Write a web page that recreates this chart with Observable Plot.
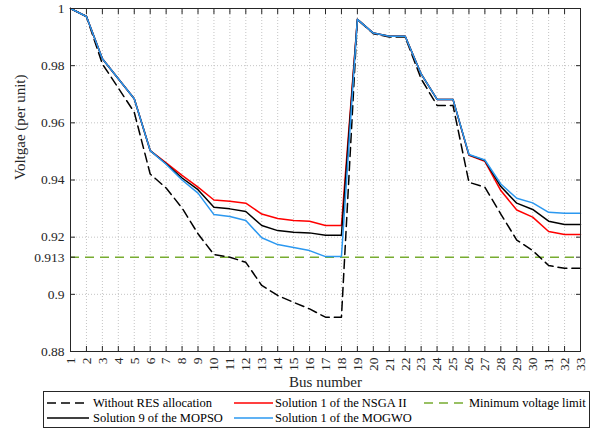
<!DOCTYPE html>
<html><head><meta charset="utf-8">
<script src="https://cdn.jsdelivr.net/npm/d3@7"></script>
<script src="https://cdn.jsdelivr.net/npm/@observablehq/plot@0.6"></script>
<style>
body{margin:0;background:#fff;font-family:"Liberation Serif","Times New Roman",Times,"DejaVu Serif",serif;}
#wrap{position:relative;width:595px;height:430px;overflow:hidden;}
#wrap svg text{font-family:"Liberation Serif","Times New Roman",Times,"DejaVu Serif",serif;}
#legend{position:absolute;left:43px;top:391px;width:545px;height:35px;border:1px solid #262626;background:#fff;}
.item{position:absolute;height:14px;font-size:12.5px;line-height:14px;color:#000;white-space:nowrap;}
.item svg{position:absolute;left:0;top:0;}
.item span{position:absolute;top:0;}
</style></head><body><div id="wrap"></div>
<script>
const buses = [1,2,3,4,5,6,7,8,9,10,11,12,13,14,15,16,17,18,19,20,21,22,23,24,25,26,27,28,29,30,31,32,33];
const withoutRES = [1.0,0.9972,0.9806,0.9722,0.9637,0.9421,0.9372,0.9302,0.9212,0.9139,0.9130,0.9112,0.9031,0.8996,0.8972,0.8949,0.8920,0.8920,0.9962,0.9912,0.9900,0.9900,0.9754,0.9661,0.9661,0.9392,0.9375,0.9281,0.9190,0.9153,0.9101,0.9091,0.9091];
const nsga2 = [1.0,0.9972,0.9824,0.9754,0.9684,0.9503,0.9460,0.9416,0.9375,0.9330,0.9326,0.9319,0.9281,0.9265,0.9258,0.9256,0.9241,0.9241,0.9962,0.9914,0.9903,0.9903,0.9771,0.9682,0.9682,0.9486,0.9465,0.9363,0.9295,0.9270,0.9220,0.9209,0.9209];
const mopso = [1.0,0.9972,0.9824,0.9754,0.9684,0.9503,0.9457,0.9407,0.9366,0.9305,0.9299,0.9290,0.9241,0.9223,0.9217,0.9215,0.9207,0.9207,0.9962,0.9914,0.9903,0.9903,0.9771,0.9682,0.9682,0.9488,0.9468,0.9377,0.9319,0.9297,0.9256,0.9244,0.9244];
const mogwo = [1.0,0.9972,0.9824,0.9754,0.9684,0.9503,0.9455,0.9400,0.9354,0.9279,0.9272,0.9258,0.9198,0.9174,0.9164,0.9153,0.9132,0.9132,0.9962,0.9914,0.9903,0.9903,0.9771,0.9682,0.9682,0.9489,0.9470,0.9386,0.9336,0.9320,0.9287,0.9284,0.9284];
const minVoltage = 0.913;
const yTicks = [0.88,0.9,0.913,0.92,0.94,0.96,0.98,1];
const yTickLabels = ["0.88","0.9","0.913","0.92","0.94","0.96","0.98","1"];
const yGrid = [0.9,0.92,0.94,0.96,0.98];
const xDomain = [1,33];
const yDomain = [0.88,1];
const xLabel = "Bus number";
const yLabel = "Voltgae (per unit)";
const seriesNames = ["Without RES allocation","Solution 1 of the NSGA II","Minimum voltage limit","Solution 9 of the MOPSO","Solution 1 of the MOGWO"];
const seriesColors = ["#000000","#ff0000","#77ac30","#000000","#2b98f0"];
const seriesDash = ["9,5",null,"9,6",null,null];
const seriesValues = [withoutRES, nsga2, null, mopso, mogwo];

const serif = '"Liberation Serif","Times New Roman",Times,"DejaVu Serif",serif';
const lineColor = "#262626";
const lineMarks = [0,1,3,4].map(k => Plot.line(
  buses.map((b,i) => ({bus: b, v: seriesValues[k][i]})),
  {x: "bus", y: "v", stroke: seriesColors[k], strokeWidth: 1.5, strokeDasharray: seriesDash[k]}
));

const chart = Plot.plot({
  width: 595, height: 390,
  marginLeft: 70, marginRight: 15, marginTop: 8, marginBottom: 39,
  style: {fontFamily: serif, fontSize: "13.5px", color: lineColor, background: "white"},
  x: {domain: xDomain, axis: null},
  y: {domain: yDomain, axis: null},
  marks: [
    Plot.ruleX(buses, {x: d => d, stroke: "#c4c4c4", strokeWidth: 1, strokeDasharray: "1,2"}),
    Plot.ruleY(yGrid, {y: d => d, stroke: "#c4c4c4", strokeWidth: 1, strokeDasharray: "1,2"}),
    Plot.ruleY([minVoltage], {y: d => d, stroke: seriesColors[2], strokeWidth: 1.5, strokeDasharray: seriesDash[2]}),
    ...lineMarks,
    Plot.frame({stroke: lineColor, strokeWidth: 1}),
    Plot.axisX({anchor: "bottom", ticks: buses, tickSize: -5, tickPadding: 11, tickRotate: -90, tickFormat: d => String(d), label: null, stroke: lineColor, fill: lineColor, fontSize: 13.5, fontFamily: serif}),
    Plot.axisX({anchor: "top", ticks: buses, tickSize: -5, tickFormat: () => "", label: null, stroke: lineColor}),
    Plot.axisY({anchor: "left", ticks: yTicks, tickSize: -5, tickPadding: 11, tickFormat: d => yTickLabels[yTicks.indexOf(d)], label: null, stroke: lineColor, fill: lineColor, fontSize: 13.5, fontFamily: serif}),
    Plot.axisY({anchor: "right", ticks: yTicks, tickSize: -5, tickFormat: () => "", label: null, stroke: lineColor}),
    Plot.text([xLabel], {frameAnchor: "bottom", dy: 31, lineAnchor: "middle", text: d => d, fontSize: 15, fill: lineColor, fontFamily: serif}),
    Plot.text([yLabel], {frameAnchor: "left", dx: -50, rotate: -90, lineAnchor: "middle", text: d => d, fontSize: 15, fill: lineColor, fontFamily: serif})
  ]
});
const wrap = document.getElementById("wrap");
chart.style.position = "absolute";
chart.style.left = "0px";
chart.style.top = "0px";
wrap.appendChild(chart);

// legend
const legend = document.createElement("div");
legend.id = "legend";
const colX = [[3,45,49],[190,229,231],[380,422,425]];
const rowY = [4,19];
seriesNames.forEach((name, k) => {
  const col = k % 3, row = Math.floor(k / 3);
  const it = document.createElement("div");
  it.className = "item";
  it.style.left = colX[col][0] + "px";
  it.style.top = rowY[row] + "px";
  const w = colX[col][1] - colX[col][0];
  it.innerHTML = `<svg width="${w}" height="14"><line x1="0" y1="7" x2="${w}" y2="7" stroke="${seriesColors[k]}" stroke-width="1.5" ${seriesDash[k] ? `stroke-dasharray="${seriesDash[k]}"` : ""}/></svg><span style="left:${colX[col][2]-colX[col][0]}px">${name}</span>`;
  legend.appendChild(it);
});
wrap.appendChild(legend);
</script></body></html>
